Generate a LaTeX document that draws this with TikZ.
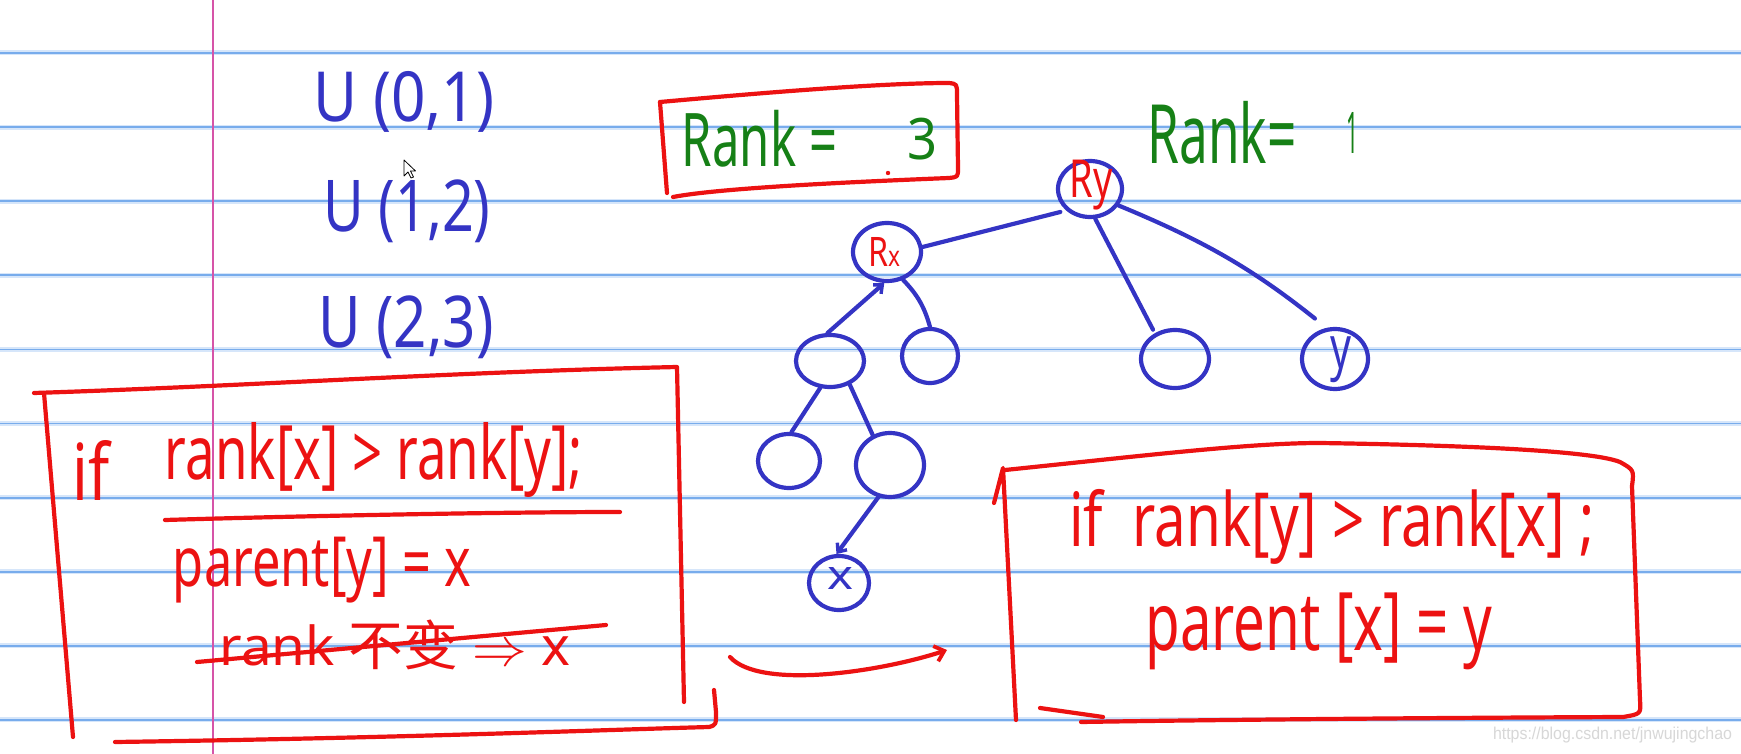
\documentclass[tikz,border=0pt]{standalone}
\usepackage{graphicx}
\usepackage{fontspec}
\setmainfont{Noto Sans}
\newfontfamily\cjk{Noto Sans CJK SC}
\newfontfamily\wmfont{Liberation Sans}
\usetikzlibrary{shapes.geometric,arrows.meta,calc}
\definecolor{inkblue}{RGB}{52,52,196}
\definecolor{inkred}{RGB}{236,18,18}
\definecolor{inkgreen}{RGB}{22,128,22}
\definecolor{rulecore}{RGB}{120,172,236}
\definecolor{rulehalo}{RGB}{214,230,250}
\definecolor{marginpink}{RGB}{214,84,168}
\definecolor{wmgray}{RGB}{215,215,215}
\newcommand{\hw}[3]{\resizebox*{#1pt}{#2pt}{#3}}
\tikzset{
  tx/.style={inner sep=0pt,outer sep=0pt,anchor=center},
  pen/.style={line width=4.2pt,line cap=round,line join=round},
  blueink/.style={pen,draw=inkblue},
  redink/.style={pen,draw=inkred},
  tnode/.style={blueink,ellipse,inner sep=0pt},
  hook/.style={-{Straight Barb[length=7pt,width=12pt,line width=3.4pt]}},
}
\begin{document}
\begin{tikzpicture}[x=1pt,y=-1pt]
\useasboundingbox (0,0) rectangle (1741,754);
\fill[white] (0,0) rectangle (1741,754);
% ruled lines
\foreach \yy in {53,127.1,201.2,275.3,349.4,423.5,497.6,571.7,645.8,719.9}{
  \draw[rulehalo,line width=5pt] (0,\yy) -- (1741,\yy);
  \draw[rulecore,line width=1.8pt] (0,\yy) -- (1741,\yy);
}
\draw[marginpink,line width=1.5pt] (213,0) -- (213,754);

% blue U texts
\node[tx,text=inkblue] (u01) at (404,102) {\hw{181}{61}{U (0,1)}};
\node[tx,text=inkblue] (u12) at (407,211) {\hw{167}{63}{U (1,2)}};
\node[tx,text=inkblue] (u23) at (406,327) {\hw{175}{63}{U (2,3)}};

% cursor
\draw[black,fill=white,line width=0.8pt,line join=round]
  (404,160) -- (404,176) -- (408,172) -- (411,178) -- (413.5,177) -- (410.5,171) -- (415.5,171) -- cycle;

% Rank = 3 box
\node[tx,text=inkgreen] (rk3a) at (759.5,138.5) {\hw{155}{57}{Rank =}};
\node[tx,text=inkgreen] (rk3b) at (922.5,139) {\hw{30}{42}{3}};
\fill[inkred] (888,173) circle (2.2pt);
\draw[redink] (660,102) .. controls (760,93) and (880,83) .. (949,83)
  .. controls (957,84) .. (957,95) -- (958,168) .. controls (958,177) .. (949,178)
  .. controls (850,182) and (720,188) .. (673,197);
\draw[redink] (660,102) -- (667,193);

% Rank = 1
\node[tx,text=inkgreen] (rk1a) at (1222,133) {\hw{149}{63}{Rank=}};
\node[tx,text=inkgreen] (rk1b) at (1352,133) {\hw{12}{41}{1}};

% tree
\node[tnode,minimum width=64pt,minimum height=56pt] (Ry) at (1090,189) {};
\node[tnode,minimum width=68pt,minimum height=58pt] (Rx) at (887,252) {};
\node[tnode,minimum width=68pt,minimum height=52pt] (A) at (830,361) {};
\node[tnode,minimum width=56pt,minimum height=54pt] (B) at (930,356) {};
\node[tnode,minimum width=68pt,minimum height=58pt] (M) at (1175,359) {};
\node[tnode,minimum width=66pt,minimum height=60pt] (Y) at (1335,359) {};
\node[tnode,minimum width=62pt,minimum height=54pt] (C) at (789,461) {};
\node[tnode,minimum width=68pt,minimum height=64pt] (D) at (890,465) {};
\node[tnode,minimum width=60pt,minimum height=54pt] (X) at (839,583) {};
\node[tx,text=inkred] (RyL) at (1091,185) {\hw{43}{50}{Ry}};
\node[tx,text=inkred] (RxL) at (884,252) {\hw{32}{29}{R\scalebox{0.7}{x}}};
\node[tx,text=inkblue] (YL) at (1341,360) {\hw{21}{46}{y}};
\node[tx,text=inkblue] (XL) at (840,578) {\hw{26}{22}{x}};

\draw[blueink,shorten >=6pt] (Rx.8) -- (Ry.222);
\draw[blueink,shorten >=4pt] (Ry.280) -- (M.128);
\draw[blueink,shorten >=15pt] (Ry.330) to[bend left=8] (Y.105);
\draw[blueink,hook] (A.95) -- (Rx.265);
\draw[blueink] (Rx.300) to[bend left=14] (B.90);
\draw[blueink] (A.250) -- (C.85);
\draw[blueink] (A.310) -- (D.120);
\draw[blueink,hook] (D.250) -- (X.95);

% bottom red arrow
\coordinate (a1) at (730,657);
\coordinate (a2) at (947,650);
\draw[redink,-{Straight Barb[length=9pt,width=16pt,line width=3.8pt]}] (a1) .. controls (760,690) and (880,672) .. (a2);

% left red box
\draw[redink] (34,393) .. controls (250,386) and (450,372) .. (677,367) -- (684,702);
\draw[redink] (44,393) -- (73,737);
\draw[redink] (115,742) .. controls (400,738) and (600,730) .. (709,727) .. controls (716,725) .. (716,712) -- (714,690);
\node[tx,text=inkred] (lif) at (91.5,470) {\hw{37}{60}{if}};
\node[tx,text=inkred] (lcond) at (374,460) {\hw{418}{75}{rank[x] > rank[y];}};
\draw[redink] (165,520) .. controls (300,516) and (500,512) .. (620,512);
\node[tx,text=inkred] (lpar) at (322,570) {\hw{298}{66}{parent[y] = x}};
\node[tx,text=inkred] (lstr) at (395,645) {\hw{351}{50}{rank {\cjk 不变} $\Rightarrow$ x}};
\draw[redink] (197,662) -- (606,625);

% right red box
\draw[redink] (994,503) -- (1003,468) -- (1016,720);
\draw[redink] (1005,470) .. controls (1150,455) and (1250,443) .. (1320,443)
  .. controls (1450,445) and (1590,450) .. (1620,462) .. controls (1634,470) .. (1632,486)
  -- (1640,700) .. controls (1641,714) .. (1623,717) .. controls (1400,718) and (1200,720) .. (1081,722);
\draw[redink] (1040,708) -- (1103,717);
\node[tx,text=inkred] (rcond) at (1332,527) {\hw{525}{75}{if \ rank[y] > rank[x] ;}};
\node[tx,text=inkred] (rpar) at (1319,631) {\hw{347}{77}{parent [x] = y}};

% watermark
\node[tx,text=wmgray] (wm) at (1612.5,735) {\hw{239}{16}{\wmfont https://blog.csdn.net/jnwujingchao}};
\end{tikzpicture}
\end{document}
